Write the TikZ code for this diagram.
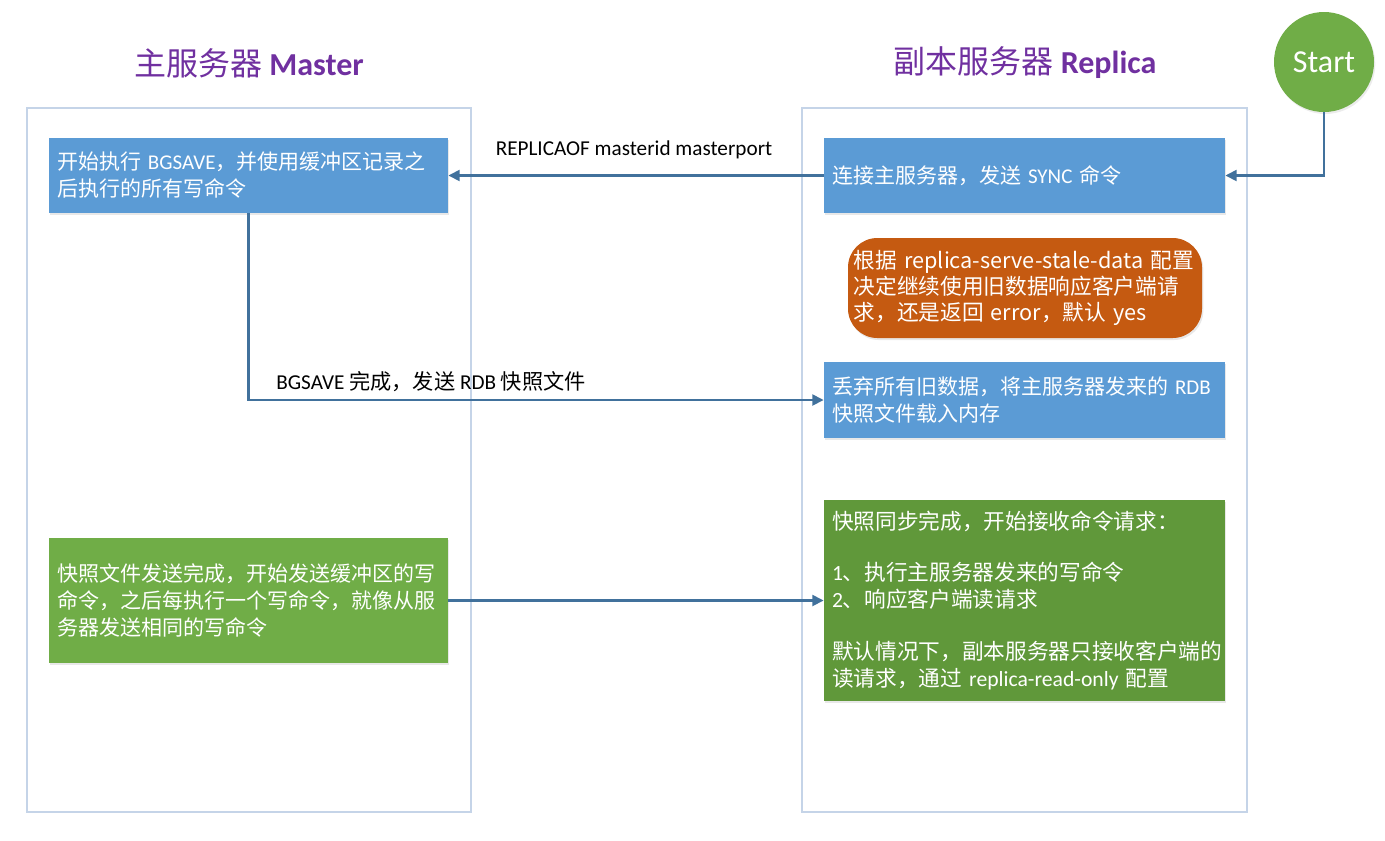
\documentclass[tikz,border=0pt]{standalone}
\usepackage{fontspec}
\setmainfont{Noto Sans CJK SC}
\newfontfamily\lat{Carlito}
\usetikzlibrary{arrows.meta,shadows}
\definecolor{boxblue}{HTML}{5B9BD5}
\definecolor{boxgreen}{HTML}{70AD47}
\definecolor{boxdgreen}{HTML}{60983A}
\definecolor{boxorange}{HTML}{C55A11}
\definecolor{arrblue}{HTML}{41719C}
\definecolor{titlepurple}{HTML}{7030A0}
\definecolor{panelline}{HTML}{C5D4E8}
\tikzset{
  stepbox/.style={draw=none, text=white, font=\fontsize{15.75}{20.25}\selectfont,
    align=left, inner xsep=6pt, inner ysep=4pt,
    drop shadow={opacity=0.18, shadow xshift=1pt, shadow yshift=-1.5pt}},
  panel/.style={draw=panelline, line width=0.8pt},
  arr/.style={draw=arrblue, line width=2.2pt, -{Triangle[length=8.5pt,width=8pt]}},
  lbl/.style={text=black, font=\fontsize{15.9}{19}\selectfont, inner sep=1pt},
  ttl/.style={text=titlepurple, font=\fontsize{24}{28}\selectfont}
}
\begin{document}
\begin{tikzpicture}[x=0.75pt,y=-0.75pt]
\useasboundingbox (0,0) rectangle (1385,840);
% panels
\draw[panel] (27,108) rectangle (471,812);
\draw[panel] (802,108) rectangle (1247,812);
% titles
\node[ttl] (tm) at (249,63) {主服务器 {\lat\bfseries Master}};
\node[ttl] (tr) at (1025,63) {副本服务器 {\lat\bfseries Replica}};
% start
\node[circle, fill=boxgreen, minimum size=75pt, inner sep=0pt, text=white,
  font=\lat\fontsize{24}{28}\selectfont,
  drop shadow={opacity=0.15, shadow xshift=1pt, shadow yshift=-1.5pt}] (start) at (1324,62) {Start};
% boxes
\node[stepbox, fill=boxblue, text width=287.25pt, minimum height=56.25pt] (A) at (248.5,175.5)
  {开始执行 {\lat BGSAVE}，并使用缓冲区记录之\\后执行的所有写命令};
\node[stepbox, fill=boxblue, text width=288.75pt, minimum height=56.25pt] (B) at (1024.5,175.5)
  {连接主服务器，发送 {\lat SYNC} 命令};
\node[stepbox, fill=boxorange, rounded corners=22pt, text width=257pt, inner xsep=4.25pt, minimum height=75pt,
  font=\fontsize{16.25}{19.5}\selectfont] (O) at (1025,288)
  {根据 replica-serve-stale-data 配置\\决定继续使用旧数据响应客户端请\\求，还是返回 error，默认 yes};
\node[stepbox, fill=boxblue, text width=288.75pt, minimum height=57pt] (C) at (1024.5,400)
  {丢弃所有旧数据，将主服务器发来的 {\lat RDB}\\快照文件载入内存};
\node[stepbox, fill=boxgreen, text width=287.25pt, minimum height=93.75pt] (D) at (248.5,600.5)
  {快照文件发送完成，开始发送缓冲区的写\\命令，之后每执行一个写命令，就像从服\\务器发送相同的写命令};
\node[stepbox, fill=boxdgreen, text width=288.75pt, minimum height=150.75pt,
  font=\fontsize{16.25}{20.5}\selectfont] (E) at (1024.5,600.5)
  {快照同步完成，开始接收命令请求：\\[18pt]{\lat 1}、执行主服务器发来的写命令\\{\lat 2}、响应客户端读请求\\[18pt]默认情况下，副本服务器只接收客户端的\\读请求，通过 {\lat replica-read-only} 配置};
% connectors
\draw[arr] (start.south) |- (B.east);
\draw[arr] (B.west) -- (A.east);
\draw[arr] (A.south) |- (C.west);
\draw[arr] (D.east) -- (E.west);
% labels
\node[lbl] (l1) at (634,150) {\lat REPLICAOF masterid masterport};
\node[lbl] (l2) at (431,382) {{\lat BGSAVE} 完成，发送 {\lat RDB} 快照文件};
\end{tikzpicture}
\end{document}
